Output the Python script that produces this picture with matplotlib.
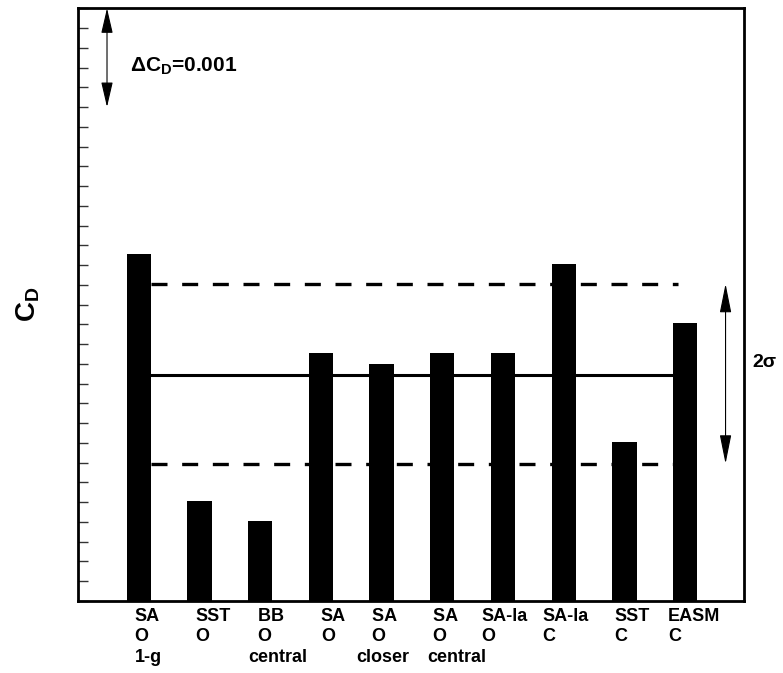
import numpy as np
import matplotlib
matplotlib.use("Agg")
import matplotlib.pyplot as plt
import matplotlib.transforms as mtransforms

plt.rcParams['font.family'] = ['Liberation Sans', 'DejaVu Sans']
plt.rcParams['font.weight'] = 'bold'
plt.rcParams['mathtext.fontset'] = 'custom'
plt.rcParams['mathtext.rm'] = 'Liberation Sans:bold'
plt.rcParams['mathtext.it'] = 'Liberation Sans:bold'
plt.rcParams['mathtext.bf'] = 'Liberation Sans:bold'
plt.rcParams['mathtext.default'] = 'rm'

# data (C_D above the bottom of the axis)
labels = ["SA\nO\n1-g", "SST\nO", "  BB\n  O\ncentral", "SA\nO", "   SA\n   O\ncloser",
          " SA\n O\ncentral", "SA-la\nO", "SA-la\nC", "SST\nC", "EASM\nC"]
cd = [0.00351, 0.00101, 0.00081, 0.00251, 0.00240, 0.00251, 0.00251, 0.00341, 0.00161, 0.00281]
cd_mean = 0.00229
cd_upper = 0.00321   # mean + sigma
cd_lower = 0.00139   # mean - sigma
delta_cd = 0.001

# label offsets from bar centre (layout only)
label_dx = [-0.07, -0.07, -0.20, 0.0, -0.41, -0.24, -0.35, -0.35, -0.16, -0.28]

x = np.arange(1, len(cd) + 1)

fig = plt.figure(figsize=(7.83, 6.73), dpi=100)
ax = fig.add_axes([0.0996, 0.107, 0.8506, 0.8807])

ax.hlines(cd_mean, 1, 9.88, color='black', lw=2.2, zorder=1)
ax.hlines([cd_upper, cd_lower], 1.2, 9.88, color='black', lw=2.4,
          linestyles=(0, (4.8, 4.4)), zorder=1)
ax.bar(x, cd, width=0.40, color='black', zorder=2)

ax.set_xlim(0, 10.97)
ax.set_ylim(0, 0.006)
ax.set_yticks(np.arange(0, 0.00601, 0.0002))
ax.set_yticklabels([])
ax.set_xticks([])
ax.tick_params(axis='y', direction='in', length=7, width=1.0, color='#333333')
for s in ax.spines.values():
    s.set_linewidth(2.0)

# category labels, one text per line
trans = mtransforms.blended_transform_factory(ax.transData, ax.transAxes)
for xi, lab, dx in zip(x, labels, label_dx):
    for k, line in enumerate(lab.split('\n')):
        ax.annotate(line, xy=(xi + dx, -0.011), xycoords=trans,
                    xytext=(0, -14.8 * k), textcoords='offset points',
                    ha='left', va='top', fontsize=13, fontweight='bold',
                    annotation_clip=False)

# delta C_D scale arrow
ax.annotate('', xy=(0.478, 0.006), xytext=(0.478, 0.006 - delta_cd),
            arrowprops=dict(arrowstyle='<|-|>,head_length=1.55,head_width=0.36',
                            color='black', lw=0.8, shrinkA=0, shrinkB=0))
ax.text(0.852, 0.00536, 'ΔC$_\\mathrm{D}$=0.001', fontsize=15, fontweight='bold',
        ha='left', va='baseline')

# 2 sigma arrow
ax.annotate('', xy=(10.666, cd_upper), xytext=(10.666, cd_lower),
            arrowprops=dict(arrowstyle='<|-|>,head_length=1.8,head_width=0.36',
                            color='black', lw=0.8, shrinkA=0, shrinkB=0),
            annotation_clip=False)
ax.text(11.115, 0.00241, '2σ', fontsize=14, fontweight='bold',
        ha='left', va='center', clip_on=False)

fig.text(28 / 783, 1 - 304 / 673, 'C$_\\mathrm{D}$', rotation=90, fontsize=20,
         fontweight='bold', ha='center', va='center')

fig.savefig('out.png', dpi=100)
